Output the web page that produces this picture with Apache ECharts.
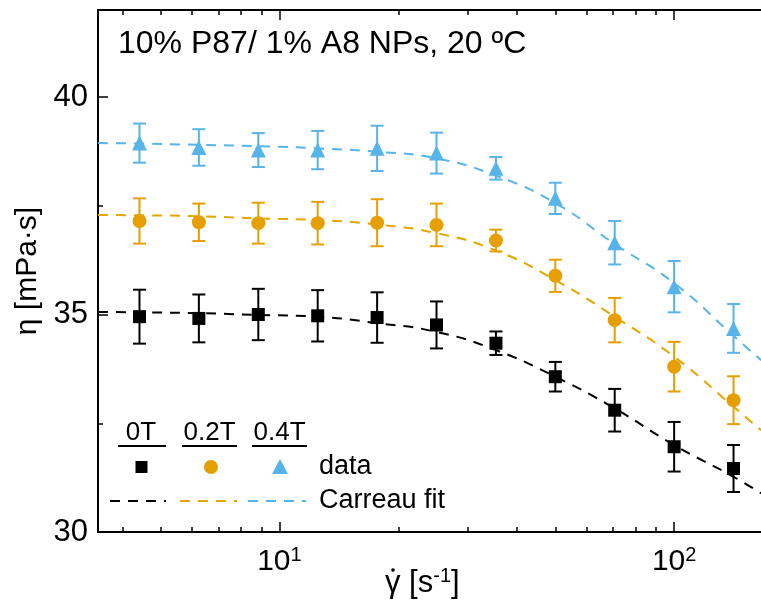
<!DOCTYPE html>
<html><head><meta charset="utf-8">
<script src="https://cdn.jsdelivr.net/npm/echarts@6/dist/echarts.min.js"></script>
<style>html,body{margin:0;padding:0;background:#fff;overflow:hidden}#c{width:761px;height:606px}</style>
</head><body><div id="c"></div>
<script>
// ---- data ----
const shearRate = [4.42, 6.25, 8.84, 12.5, 17.68, 25, 35.36, 50, 70.7, 100, 141.4];
const eta0T  = [34.95, 34.91, 35.00, 34.97, 34.93, 34.76, 34.34, 33.57, 32.80, 31.96, 31.46];
const err0T  = [0.62, 0.55, 0.59, 0.59, 0.58, 0.54, 0.27, 0.34, 0.49, 0.57, 0.54];
const eta02T = [37.15, 37.12, 37.10, 37.10, 37.11, 37.06, 36.70, 35.89, 34.87, 33.80, 33.03];
const err02T = [0.52, 0.43, 0.47, 0.49, 0.54, 0.49, 0.25, 0.37, 0.51, 0.57, 0.55];
const eta04T = [38.94, 38.84, 38.78, 38.78, 38.82, 38.71, 38.36, 37.67, 36.65, 35.64, 34.68];
const err04T = [0.45, 0.42, 0.39, 0.44, 0.52, 0.47, 0.26, 0.36, 0.50, 0.59, 0.56];

const fitRate = [3.47, 4.42, 6.25, 8.84, 12.5, 17.68, 25, 35.36, 50, 70.7, 100, 141.4, 166];
const fit0T  = [35.06, 35.05, 35.03, 34.99, 34.95, 34.80, 34.60, 34.18, 33.57, 32.84, 32.00, 31.27, 30.89];
const fit02T = [37.29, 37.28, 37.26, 37.21, 37.17, 37.07, 36.87, 36.47, 35.79, 34.95, 34.03, 32.88, 32.34];
const fit04T = [38.94, 38.93, 38.90, 38.87, 38.82, 38.74, 38.59, 38.19, 37.56, 36.62, 35.72, 34.51, 33.95];

const xMajorTicks = [10, 100];
const xMinorTicks = [4, 5, 6, 7, 8, 9, 20, 30, 40, 50, 60, 70, 80, 90, 200];
const xTickBase = ['10', '10'];
const xTickExp = ['1', '2'];
const yMajorTicks = [30, 35, 40];
const yMinorTicks = [32.5, 37.5];

const seriesNames = ['0T', '0.2T', '0.4T'];
const titleText = '10% P87/ 1% A8 NPs, 20 \u00BAC';
const yName = '\u03B7 [mPa\u00B7s]';

// ---- styling ----
const FONT = '"Liberation Sans", Arial, sans-serif';
const colors = ['#000000', '#E69F00', '#56B4E9'];
const fitColors = ['#000000', '#E3A600', '#56B4E9'];
const symbols = ['rect', 'circle', 'triangle'];
const symSizes = [13, 14, 15];
const DASH = [10, 8];

const chart = echarts.init(document.getElementById('c'), null, {renderer: 'canvas'});

function xAxisDef(pos, ticks, len, showLine, labels) {
  return {
    type: 'log', logBase: 10, min: 3.47, max: 209.6, position: pos, gridIndex: 0,
    axisLine: {show: showLine, onZero: false, lineStyle: {color: '#000', width: 2}},
    axisTick: {show: true, inside: true, length: len, customValues: ticks, lineStyle: {color: '#000', width: 1.5}},
    axisLabel: labels ? {
      show: true, customValues: xMajorTicks, margin: 13,
      formatter: function (v) {
        const i = xMajorTicks.findIndex(t => Math.abs(t - v) / t < 1e-6);
        return '{b|' + xTickBase[i] + '}{s|' + xTickExp[i] + '}';
      },
      rich: {
        b: {fontSize: 30, fontFamily: FONT, color: '#000', lineHeight: 34},
        s: {fontSize: 20, fontFamily: FONT, color: '#000', verticalAlign: 'top', lineHeight: 22}
      }
    } : {show: false},
    splitLine: {show: false}
  };
}
function yAxisDef(ticks, len, showLine, labels) {
  return {
    type: 'value', min: 30, max: 42, position: 'left', gridIndex: 0,
    axisLine: {show: showLine, onZero: false, lineStyle: {color: '#000', width: 2}},
    axisTick: {show: true, inside: true, length: len, customValues: ticks, lineStyle: {color: '#000', width: 1.5}},
    axisLabel: labels ? {show: true, customValues: yMajorTicks, margin: 10, fontSize: 31, fontFamily: FONT, color: '#000'} : {show: false},
    splitLine: {show: false}
  };
}

const xAxes = [
  xAxisDef('bottom', xMajorTicks, 10, true, true),
  xAxisDef('bottom', xMinorTicks, 5, false, false),
  xAxisDef('top', xMajorTicks, 10, true, false),
  xAxisDef('top', xMinorTicks, 5, false, false)
];
const yAxes = [
  yAxisDef(yMajorTicks, 10, true, true),
  yAxisDef(yMinorTicks, 5, false, false)
];
Object.assign(yAxes[0], {
  name: yName, nameLocation: 'middle', nameGap: 52,
  nameTextStyle: {fontSize: 30, fontFamily: FONT, color: '#000'}
});

const etas = [eta0T, eta02T, eta04T];
const errs = [err0T, err02T, err04T];
const fits = [fit0T, fit02T, fit04T];

const series = [];
fits.forEach((f, k) => {
  series.push({
    type: 'line', name: seriesNames[k] + ' fit', smooth: true, symbol: 'none',
    data: fitRate.map((x, i) => [x, f[i]]),
    lineStyle: {color: fitColors[k], width: 2, type: DASH}, z: 2, silent: true
  });
});
etas.forEach((e, k) => {
  series.push({
    type: 'custom', name: seriesNames[k] + ' err',
    data: shearRate.map((x, i) => [x, e[i] - errs[k][i], e[i] + errs[k][i]]),
    encode: {x: 0, y: [1, 2]}, z: 3, silent: true,
    renderItem: function (params, api) {
      const lo = api.coord([api.value(0), api.value(1)]);
      const hi = api.coord([api.value(0), api.value(2)]);
      const c = 6.5;
      const st = {stroke: colors[k], lineWidth: 2};
      return {type: 'group', children: [
        {type: 'line', shape: {x1: lo[0], y1: lo[1], x2: hi[0], y2: hi[1]}, style: st},
        {type: 'line', shape: {x1: lo[0] - c, y1: lo[1], x2: lo[0] + c, y2: lo[1]}, style: st},
        {type: 'line', shape: {x1: hi[0] - c, y1: hi[1], x2: hi[0] + c, y2: hi[1]}, style: st}
      ]};
    }
  });
});
etas.forEach((e, k) => {
  series.push({
    type: 'scatter', name: seriesNames[k],
    data: shearRate.map((x, i) => [x, e[i]]),
    symbol: symbols[k], symbolSize: symSizes[k],
    itemStyle: {color: colors[k], opacity: 1}, z: 4, silent: true
  });
});

// ---- title, x-axis name and legend drawn as graphic ----
const legendCx = [141, 209.5, 279.5];
const underline = [[118, 166], [182, 237], [252, 307]];
const dashSeg = [[110, 166], [180, 237], [248, 306]];
const graphics = [
  {type: 'text', x: 118, y: 44, style: {text: titleText, font: '32px ' + FONT, fill: '#000', verticalAlign: 'middle', textVerticalAlign: 'middle'}},
  {type: 'text', x: 385, y: 583, style: {
    text: '{g|\u03B3}{n| [s}{sup|-1}{n|]}', verticalAlign: 'middle', textVerticalAlign: 'middle',
    rich: {
      g: {fontSize: 31, fontFamily: FONT, fill: '#000', color: '#000', lineHeight: 33},
      n: {fontSize: 31, fontFamily: FONT, fill: '#000', color: '#000', lineHeight: 33},
      sup: {fontSize: 20, fontFamily: FONT, fill: '#000', color: '#000', verticalAlign: 'top', lineHeight: 21}
    }
  }},
  {type: 'circle', shape: {cx: 393, cy: 570, r: 1.8}, style: {fill: '#000'}}
];
seriesNames.forEach((n, k) => {
  graphics.push({type: 'text', x: legendCx[k], y: 433, style: {text: n, font: '26px ' + FONT, fill: '#000', align: 'center', textAlign: 'center', verticalAlign: 'middle', textVerticalAlign: 'middle'}});
  graphics.push({type: 'line', shape: {x1: underline[k][0], y1: 446, x2: underline[k][1], y2: 446}, style: {stroke: '#000', lineWidth: 2}});
  graphics.push({type: 'line', shape: {x1: dashSeg[k][0], y1: 501, x2: dashSeg[k][1], y2: 501}, style: {stroke: fitColors[k], lineWidth: 2, lineDash: DASH}});
});
graphics.push({type: 'rect', shape: {x: 135.5, y: 461, width: 12, height: 12}, style: {fill: colors[0]}});
graphics.push({type: 'circle', shape: {cx: 211, cy: 467, r: 7}, style: {fill: colors[1]}});
graphics.push({type: 'polygon', shape: {points: [[280, 459], [288, 474], [272, 474]]}, style: {fill: colors[2]}});
graphics.push({type: 'text', x: 319, y: 467, style: {text: 'data', font: '27px ' + FONT, fill: '#000', verticalAlign: 'middle', textVerticalAlign: 'middle'}});
graphics.push({type: 'text', x: 319, y: 501, style: {text: 'Carreau fit', font: '27px ' + FONT, fill: '#000', verticalAlign: 'middle', textVerticalAlign: 'middle'}});

chart.setOption({
  animation: false,
  backgroundColor: '#fff',
  grid: {left: 98, top: 10, right: -40, bottom: 74, containLabel: false, outerBoundsMode: 'none'},
  xAxis: xAxes,
  yAxis: yAxes,
  series: series,
  graphic: graphics
});
</script>
</body></html>
